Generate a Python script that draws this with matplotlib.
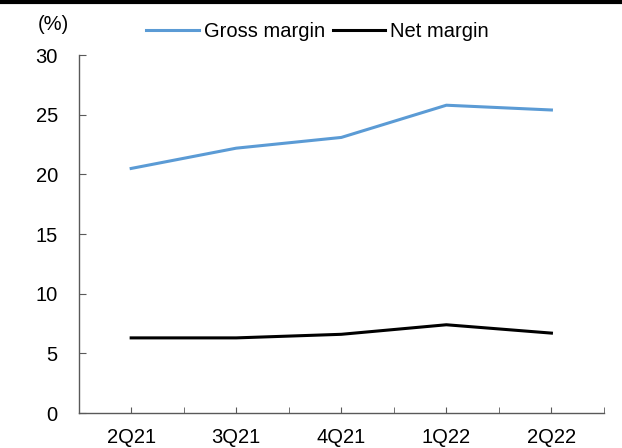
import matplotlib
matplotlib.use('Agg')
import matplotlib.pyplot as plt
import numpy as np

quarters = ['2Q21', '3Q21', '4Q21', '1Q22', '2Q22']
gross_margin = [20.5, 22.2, 23.1, 25.8, 25.4]
net_margin = [6.3, 6.3, 6.6, 7.4, 6.7]

plt.rcParams['font.family'] = ['Liberation Sans', 'DejaVu Sans']
fs = 14.5

fig = plt.figure(figsize=(6.22, 4.48), dpi=100)
ax = fig.add_axes([0.1264, 0.078, 0.8446, 0.799])

x = np.arange(len(quarters))
ax.plot(x, gross_margin, color='#5B9BD5', lw=2.2, label='Gross margin')
ax.plot(x, net_margin, color='black', lw=2.2, label='Net margin')

ax.set_xlim(-0.5, len(quarters) - 0.5)
ax.set_ylim(0, 30)
ax.set_yticks(range(0, 31, 5))
ax.set_xticks(x)
ax.set_xticklabels(quarters, fontsize=fs)
ax.set_xticks(np.arange(-0.5, len(quarters)), minor=True)
ax.tick_params(axis='y', direction='in', length=5, labelsize=fs, color='#595959', pad=15)
ax.tick_params(axis='x', which='both', direction='in', length=4, color='#595959', pad=11)

for s in ['top', 'right']:
    ax.spines[s].set_visible(False)
for s in ['left', 'bottom']:
    ax.spines[s].set_color('#595959')
    ax.spines[s].set_linewidth(1.0)

fig.text(0.06, 0.925, '(%)', fontsize=fs, ha='left', va='bottom')
ax.legend(loc='lower center', bbox_to_anchor=(0.455, 1.0), ncol=2, frameon=False,
          fontsize=fs, handlelength=2.6, handletextpad=0.25, columnspacing=0.4,
          borderaxespad=0.3)

fig.add_artist(plt.Line2D([0, 1], [0.995, 0.995], color='black', lw=3, transform=fig.transFigure))

fig.savefig('out.png', dpi=100)
